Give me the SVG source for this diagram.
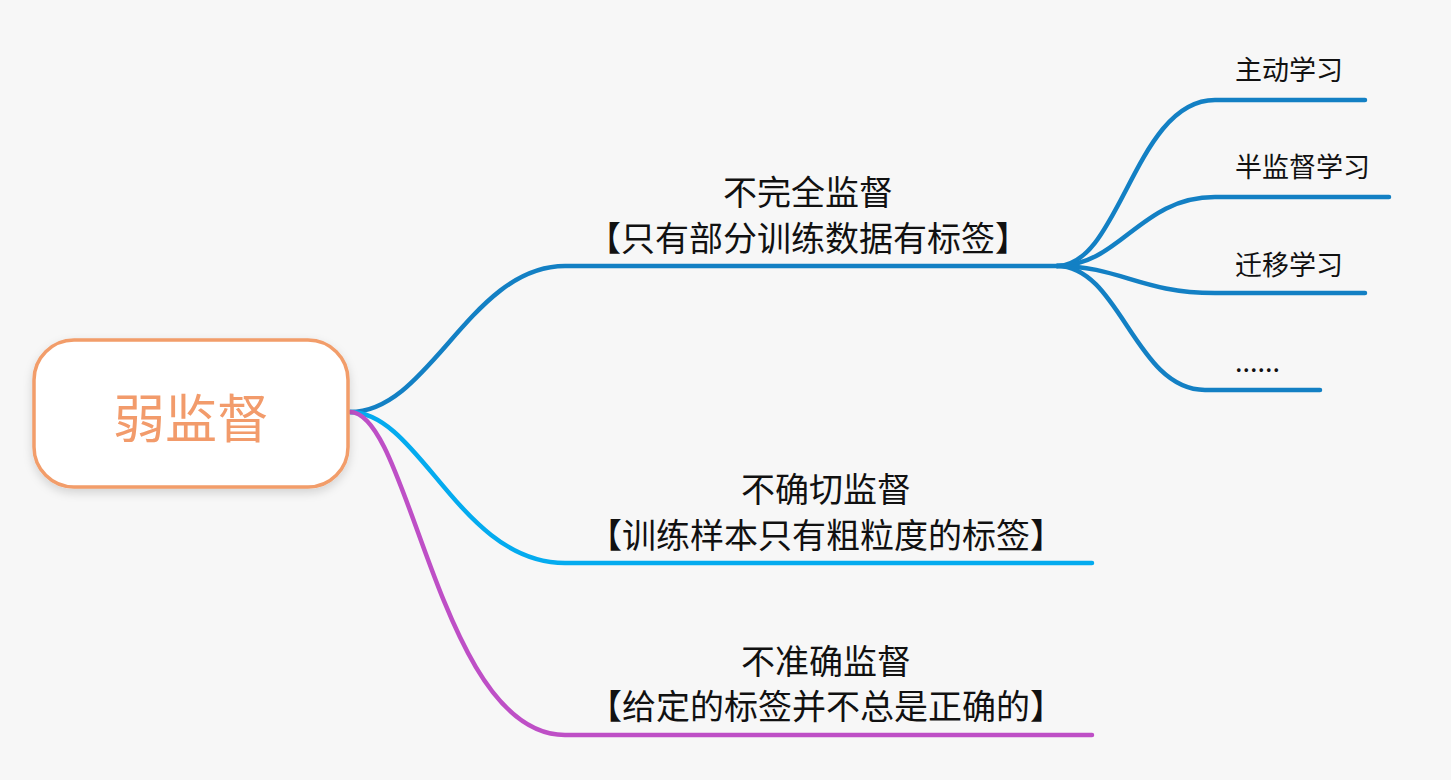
<svg xmlns="http://www.w3.org/2000/svg" width="1451" height="780" viewBox="0 0 1451 780">
<defs>
<filter id="sh" x="-20%" y="-20%" width="140%" height="150%">
<feDropShadow dx="0" dy="4" stdDeviation="5" flood-color="#000" flood-opacity="0.15"/>
</filter>
<style>
.t{font-family:"Noto Sans CJK SC","Noto Sans",sans-serif;fill:#111;}
.b{font-size:34px;text-anchor:middle;}
.s{font-size:27px;}
.c{fill:none;stroke-width:4.5;stroke-linecap:round;}
.blue{stroke:#1380c4;}
.cyan{stroke:#04abef;}
.pur{stroke:#be4fc6;}
</style>
</defs>
<rect width="1451" height="780" fill="#f7f7f7"/>
<g id="connectors">
<path class="c blue" d="M350,412 C430,412 470,266 565,266 L1057,266"/>
<path class="c cyan" d="M350,412 C420,412 460,563 565,563 L1092,563"/>
<path class="c pur" d="M350,412 C410,412 440,735 565,735 L1092,735"/>
<path class="c blue" d="M1057,266 C1120,266 1135,100 1215,100 L1365,100"/>
<path class="c blue" d="M1057,266 C1120,266 1140,197 1215,197 L1389,197"/>
<path class="c blue" d="M1057,266 C1120,266 1140,293 1215,293 L1365,293"/>
<path class="c blue" d="M1057,266 C1120,266 1135,390 1205,390 L1320,390"/>
</g>
<g id="root">
<rect x="34" y="340" width="314" height="147" rx="40" ry="40" fill="#fff" stroke="#f29d6a" stroke-width="3.5" filter="url(#sh)"/>
<text x="191" y="438" font-family="Noto Sans CJK SC, sans-serif" font-size="52" fill="#f29b6b" text-anchor="middle">弱监督</text>
</g>
<g id="n1">
<text class="t b" x="808" y="205">不完全监督</text>
<text class="t b" x="808" y="251">【只有部分训练数据有标签】</text>
</g>
<g id="n2">
<text class="t b" x="826" y="502">不确切监督</text>
<text class="t b" x="826" y="548">【训练样本只有粗粒度的标签】</text>
</g>
<g id="n3">
<text class="t b" x="826" y="674">不准确监督</text>
<text class="t b" x="826" y="719">【给定的标签并不总是正确的】</text>
</g>
<g id="n1a"><text class="t s" x="1235" y="80">主动学习</text></g>
<g id="n1b"><text class="t s" x="1235" y="177">半监督学习</text></g>
<g id="n1c"><text class="t s" x="1235" y="275">迁移学习</text></g>
<g id="n1d"><text class="t s" x="1235" y="372">......</text></g>
</svg>
